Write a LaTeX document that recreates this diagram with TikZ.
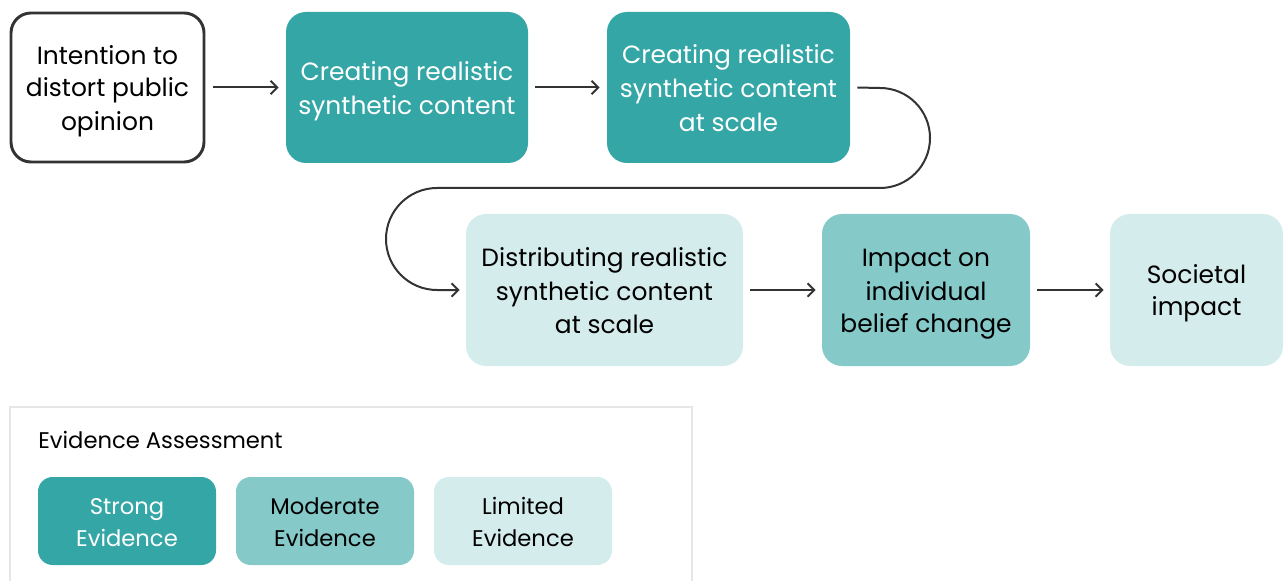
\documentclass[tikz,border=0pt]{standalone}
\usepackage{fontspec}
\setmainfont{Poppins}
\usetikzlibrary{arrows.meta}
\definecolor{strongc}{HTML}{34A6A6}
\definecolor{moderatec}{HTML}{85C9C9}
\definecolor{limitedc}{HTML}{D5ECEC}
\definecolor{linec}{HTML}{333333}
\definecolor{legendline}{HTML}{E6E6E6}
\newcommand\mystrut{\rule[-4.6pt]{0pt}{24pt}}
\newcommand\legstrut{\rule[-5pt]{0pt}{24pt}}
\tikzset{
  box/.style={rounded corners=15pt, align=center, inner sep=0pt,
    font=\fontsize{18.7pt}{24pt}\selectfont, text=black},
  strongbox/.style={box, fill=strongc, text=white},
  moderatebox/.style={box, fill=moderatec},
  limitedbox/.style={box, fill=limitedc},
  whitebox/.style={box, fill=white, draw=linec, line width=2.2pt},
  legbox/.style={rounded corners=11pt, minimum width={178*0.75pt}, minimum height={88*0.75pt}, font=\fontsize{17pt}{24pt}\selectfont},
  conn/.style={draw=linec, line width=1.5pt, -{Straight Barb[length=5pt,width=10pt,line width=1.5pt]}},
}
\begin{document}
\begin{tikzpicture}[x=0.75pt,y=-0.75pt]
\useasboundingbox (0,0) rectangle (1285,581);
% main nodes
\node[whitebox, minimum width={193*0.75pt}, minimum height={149*0.75pt}] (n1) at (107.5,87.5) {\mystrut Intention to\\\mystrut distort public\\\mystrut opinion};
\node[strongbox, minimum width={242*0.75pt}, minimum height={151*0.75pt}] (n2) at (407,87.5) {\mystrut Creating realistic\\\mystrut synthetic content};
\node[strongbox, minimum width={243*0.75pt}, minimum height={151*0.75pt}] (n3) at (728.5,87.5) {\mystrut Creating realistic\\\mystrut synthetic content\\\mystrut at scale};
\node[limitedbox, minimum width={277*0.75pt}, minimum height={152*0.75pt}] (n4) at (604.5,290) {\mystrut Distributing realistic\\\mystrut synthetic content\\\mystrut at scale};
\node[moderatebox, minimum width={208*0.75pt}, minimum height={152*0.75pt}] (n5) at (926,290) {\mystrut Impact on\\\mystrut individual\\\mystrut belief change};
\node[limitedbox, minimum width={173*0.75pt}, minimum height={152*0.75pt}] (n6) at (1196.5,290) {\mystrut Societal\\\mystrut impact};
% connectors
\draw[conn] ([xshift=8*0.75pt]n1.east) -- ([xshift=-7*0.75pt]n2.west);
\draw[conn] ([xshift=7*0.75pt]n2.east) -- ([xshift=-7*0.75pt]n3.west);
\coordinate (c1) at (880,188);
\coordinate (c2) at (437,188);
\draw[conn] ([xshift=7*0.75pt]n3.east) -- (880,88) arc[start angle=90,end angle=-90,radius=50*0.75pt] -- (c2) arc[start angle=90,end angle=270,radius=51*0.75pt] -- ([xshift=-6*0.75pt]n4.west);
\draw[conn] ([xshift=7*0.75pt]n4.east) -- ([xshift=-6*0.75pt]n5.west);
\draw[conn] ([xshift=7*0.75pt]n5.east) -- ([xshift=-6*0.75pt]n6.west);
% legend
\draw[draw=legendline, line width=1.5pt] (10,610) -- (10,407) -- (692,407) -- (692,610);
\node[anchor=west, inner sep=0pt, font=\fontsize{17pt}{24pt}\selectfont] (lt) at (38,440) {Evidence Assessment};
\node[strongbox, legbox] (l1) at (127,521) {\legstrut Strong\\\legstrut Evidence};
\node[moderatebox, legbox] (l2) at (325,521) {\legstrut Moderate\\\legstrut Evidence};
\node[limitedbox, legbox] (l3) at (523,521) {\legstrut Limited\\\legstrut Evidence};
\end{tikzpicture}
\end{document}
